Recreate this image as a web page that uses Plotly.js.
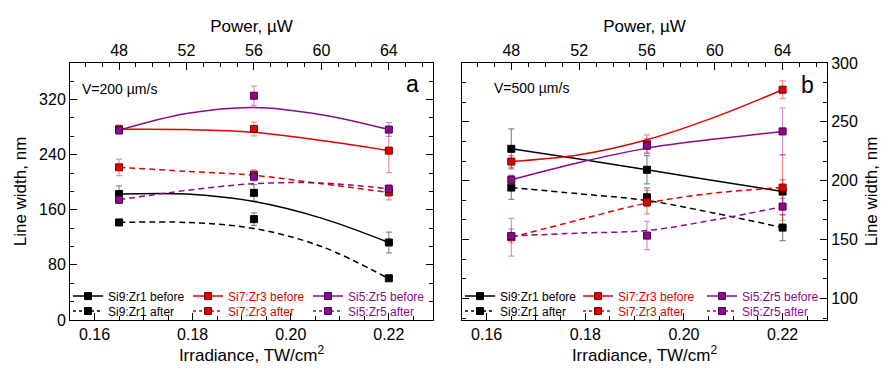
<!DOCTYPE html>
<html>
<head>
<meta charset="utf-8">
<script src="https://cdn.plot.ly/plotly-3.0.1.min.js"></script>
<style>html,body{margin:0;padding:0;background:#fff;}#chart{width:890px;height:373px;}</style>
</head>
<body>
<div id="chart"></div>
<script>
// ---- data ----
const power = [48, 56, 64];                       // µW
const irradiance = [0.165, 0.1925, 0.22];          // TW/cm2
const curveIrradiance = [0.165, 0.17875, 0.1925, 0.20625, 0.22]; // at 48,52,56,60,64 µW

const seriesNames = ["Si9:Zr1", "Si7:Zr3", "Si5:Zr5"];

// panel a (V = 200 µm/s)
const a_si9_before = [182.8, 184.5, 112.5];
const a_si9_before_err = [12, 12, 15];
const a_si9_after = [141.6, 146.4, 60.6];
const a_si9_after_err = [3, 9, 3];
const a_si7_before = [276.8, 277.3, 245.8];
const a_si7_before_err = [6, 10, 32];
const a_si7_after = [221.6, 210.9, 185.2];
const a_si7_after_err = [12, 7, 11];
const a_si5_before = [275.4, 325.5, 276.4];
const a_si5_before_err = [6, 14, 10];
const a_si5_after = [174.5, 208, 190.1];
const a_si5_after_err = [5, 6, 6];

const a_si9_before_fit = [182.8, 182.8, 172, 147.9, 112.5];
const a_si9_after_fit = [141.6, 141.6, 132.8, 106.7, 60];
const a_si7_before_fit = [276.8, 276.4, 272.5, 260.4, 245.8];
const a_si7_after_fit = [221.6, 215.8, 210, 197.8, 185.2];
const a_si5_before_fit = [275.4, 299.6, 308.5, 298, 276.4];
const a_si5_after_fit = [174.5, 188.1, 197.8, 198.8, 190.5];

// panel b (V = 500 µm/s)
const b_si9_before = [227.1, 209.3, 190.8];
const b_si9_before_err = [17, 12, 10];
const b_si9_after = [194.2, 186, 160.2];
const b_si9_after_err = [10, 8, 11];
const b_si7_before = [216.3, 231, 277.3];
const b_si7_before_err = [5, 8, 7.5];
const b_si7_after = [152, 181.8, 194.2];
const b_si7_after_err = [16, 10, 28];
const b_si5_before = [200.8, 229.7, 241.9];
const b_si5_before_err = [4, 6, 20];
const b_si5_after = [153.1, 153.4, 178];
const b_si5_after_err = [6, 12, 7];

const b_si9_before_fit = [227.1, 218.4, 209.3, 200, 190.8];
const b_si9_after_fit = [194.2, 188.9, 183.2, 172.4, 160.2];
const b_si7_before_fit = [216.3, 222, 234.8, 254, 277.3];
const b_si7_after_fit = [152, 166.8, 181, 189.5, 194.2];
const b_si5_before_fit = [200.8, 215.5, 227.7, 235.4, 241.9];
const b_si5_after_fit = [153.1, 155.5, 157.7, 166.8, 178];

// ---- styles ----
const colors = ["#000000", "#e00000", "#8b0a8b"];
const errColors = ["rgba(0,0,0,0.45)", "rgba(230,0,0,0.45)", "rgba(150,20,150,0.45)"];
const markerLine = ["#000000", "#7a0000", "#4a004a"];
const FONT = "Liberation Sans, Arial, sans-serif";

const traces = [];

function addSeries(xa, ya, idx, vals, errs, fit, after) {
  traces.push({
    x: curveIrradiance, y: fit, xaxis: xa, yaxis: ya, mode: "lines", line: {shape: "spline", smoothing: 1, color: colors[idx], width: 1.5, dash: after ? "6px,4px" : "solid"},
    showlegend: false, hoverinfo: "skip"
  });
  traces.push({
    x: irradiance, y: vals, xaxis: xa, yaxis: ya, mode: "markers",
    marker: {symbol: "square", size: 7, color: colors[idx], line: {color: markerLine[idx], width: 1}},
    error_y: {type: "data", array: errs, visible: true, color: errColors[idx], thickness: 1.2, width: 3},
    showlegend: false
  });
}

// legend column / row positions (paper fractions)
const legendCols = {x: [-0.0026, 0.1559, 0.3144], x2: [0.5152, 0.6711, 0.8349]};
const legendRows = [0.093, 0.035];
const legendLayouts = {};
let legendCount = 0;
function addLegend(xa, ya, idx, after) {
  legendCount++;
  const id = legendCount === 1 ? "legend" : "legend" + legendCount;
  traces.push({
    x: [null], y: [null], xaxis: xa, yaxis: ya, mode: "lines+markers",
    name: '<span style="color:' + colors[idx] + '">' + seriesNames[idx] + (after ? " after" : " before") + "</span>",
    line: {color: colors[idx], width: 1.5, dash: after ? "3px,3px" : "solid"},
    marker: {symbol: "square", size: 7, color: colors[idx], line: {color: markerLine[idx], width: 1}},
    legend: id, showlegend: true
  });
  legendLayouts[id] = {
    x: legendCols[xa][idx], y: legendRows[after ? 1 : 0], xanchor: "left", yanchor: "middle",
    bgcolor: "rgba(0,0,0,0)", font: {family: FONT, size: 12, color: "#000"}, itemwidth: 30
  };
}

// panel a
addSeries("x", "y", 0, a_si9_before, a_si9_before_err, a_si9_before_fit, false);
addSeries("x", "y", 0, a_si9_after, a_si9_after_err, a_si9_after_fit, true);
addSeries("x", "y", 1, a_si7_before, a_si7_before_err, a_si7_before_fit, false);
addSeries("x", "y", 1, a_si7_after, a_si7_after_err, a_si7_after_fit, true);
addSeries("x", "y", 2, a_si5_before, a_si5_before_err, a_si5_before_fit, false);
addSeries("x", "y", 2, a_si5_after, a_si5_after_err, a_si5_after_fit, true);
// panel b
addSeries("x2", "y2", 0, b_si9_before, b_si9_before_err, b_si9_before_fit, false);
addSeries("x2", "y2", 0, b_si9_after, b_si9_after_err, b_si9_after_fit, true);
addSeries("x2", "y2", 1, b_si7_before, b_si7_before_err, b_si7_before_fit, false);
addSeries("x2", "y2", 1, b_si7_after, b_si7_after_err, b_si7_after_fit, true);
addSeries("x2", "y2", 2, b_si5_before, b_si5_before_err, b_si5_before_fit, false);
addSeries("x2", "y2", 2, b_si5_after, b_si5_after_err, b_si5_after_fit, true);

// top (power) axes carriers
traces.push({x: power, y: [null, null, null], xaxis: "x3", yaxis: "y", mode: "markers", showlegend: false, hoverinfo: "skip"});
traces.push({x: power, y: [null, null, null], xaxis: "x4", yaxis: "y2", mode: "markers", showlegend: false, hoverinfo: "skip"});

// legends (one entry each)
for (const xa of ["x", "x2"]) {
  const ya = xa === "x" ? "y" : "y2";
  for (const after of [false, true]) {
    for (let i = 0; i < 3; i++) addLegend(xa, ya, i, after);
  }
}

const k = irradiance[2] / power[2]; // irradiance per µW
const irrRange = [0.155, 0.229];
const powRange = [irrRange[0] / k, irrRange[1] / k];

const tickFont = {family: FONT, size: 16, color: "#000"};
const titleFont = {family: FONT, size: 17, color: "#000"};

function baseAxis(extra) {
  return Object.assign({
    showline: true, linecolor: "#000", linewidth: 1, showgrid: false, zeroline: false,
    ticks: "inside", ticklen: 7, tickcolor: "#000", tickwidth: 1, tickfont: tickFont,
  }, extra);
}

const layout = Object.assign({
  width: 890, height: 373,
  margin: {l: 70, r: 63, t: 63, b: 53, autoexpand: false},
  paper_bgcolor: "#fff", plot_bgcolor: "#fff",
  font: {family: FONT, color: "#000"},
  xaxis: baseAxis({domain: [0, 0.4795], anchor: "y", range: irrRange, tick0: 0, dtick: 0.02, tickformat: ".2f", mirror: true,
    minor: {dtick: 0.005, tick0: 0, ticks: "inside", ticklen: 4, tickcolor: "#000"},
    title: {text: "Irradiance, TW/cm<sup>2</sup>", font: titleFont, standoff: 6}}),
  xaxis2: baseAxis({domain: [0.5178, 1], anchor: "y2", range: irrRange, tick0: 0, dtick: 0.02, tickformat: ".2f", mirror: true,
    minor: {dtick: 0.005, tick0: 0, ticks: "inside", ticklen: 4, tickcolor: "#000"},
    title: {text: "Irradiance, TW/cm<sup>2</sup>", font: titleFont, standoff: 6}}),
  xaxis3: baseAxis({overlaying: "x", side: "top", anchor: "y", range: powRange, tick0: 0, dtick: 4,
    minor: {dtick: 1, tick0: 0, ticks: "inside", ticklen: 4, tickcolor: "#000"},
    title: {text: "Power, µW", font: titleFont, standoff: 4}}),
  xaxis4: baseAxis({overlaying: "x2", side: "top", anchor: "y2", range: powRange, tick0: 0, dtick: 4,
    minor: {dtick: 1, tick0: 0, ticks: "inside", ticklen: 4, tickcolor: "#000"},
    title: {text: "Power, µW", font: titleFont, standoff: 4}}),
  yaxis: baseAxis({domain: [0, 1], anchor: "x", range: [0, 373], tick0: 0, dtick: 80, mirror: "ticks",
    minor: {dtick: 80 / 3, tick0: 0, ticks: "inside", ticklen: 4, tickcolor: "#000"},
    title: {text: "Line width, nm", font: titleFont, standoff: 8}}),
  yaxis2: baseAxis({domain: [0, 1], anchor: "x2", side: "right", range: [81.7, 300], tick0: 0, dtick: 50, mirror: "ticks",
    minor: {dtick: 50 / 3, tick0: 0, ticks: "inside", ticklen: 4, tickcolor: "#000"},
    title: {text: "Line width, nm", font: titleFont, standoff: 8}}),
  annotations: [
    {xref: "paper", yref: "paper", x: 0.0132, y: 0.899, xanchor: "left", yanchor: "middle", text: "V=200 µm/s", showarrow: false, font: {family: FONT, size: 14, color: "#000"}},
    {xref: "paper", yref: "paper", x: 0.4531, y: 0.918, xanchor: "center", yanchor: "middle", text: "a", showarrow: false, font: {family: FONT, size: 23, color: "#000"}},
    {xref: "paper", yref: "paper", x: 0.5575, y: 0.904, xanchor: "left", yanchor: "middle", text: "V=500 µm/s", showarrow: false, font: {family: FONT, size: 14, color: "#000"}},
    {xref: "paper", yref: "paper", x: 0.9736, y: 0.914, xanchor: "center", yanchor: "middle", text: "b", showarrow: false, font: {family: FONT, size: 23, color: "#000"}}
  ]
}, legendLayouts);

Plotly.newPlot("chart", traces, layout, {displayModeBar: false, staticPlot: true});
</script>
</body>
</html>
